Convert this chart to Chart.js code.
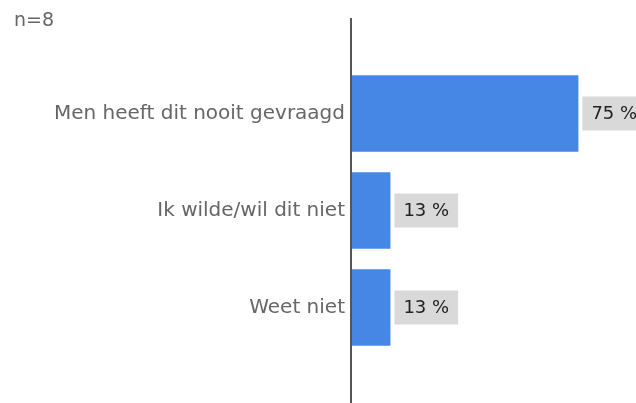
<!DOCTYPE html>
<html>
<head>
<meta charset="utf-8">
<script src="https://cdn.jsdelivr.net/npm/chart.js@4"></script>
<style>
  html, body { margin: 0; padding: 0; background: #fff; }
  #wrap { position: relative; width: 636px; height: 403px; }
  #note { position: absolute; left: 14px; top: 8px; font: 19px "DejaVu Sans", sans-serif; color: #666; }
</style>
</head>
<body>
<div id="wrap">
  <canvas id="chart" width="636" height="403"></canvas>
  <div id="note">n=8</div>
</div>
<script>
// ======================
// Data
// ======================
const categories = ["Men heeft dit nooit gevraagd", "Ik wilde/wil dit niet", "Weet niet"];
const percentages = [75, 13, 13];
const valueLabels = ["75 %", "13 %", "13 %"];

// vertical axis line through zero, longer than the plot area
const axisLine = {
  id: "axisLine",
  afterDatasetsDraw(chart) {
    const ctx = chart.ctx;
    const x = chart.scales.x.getPixelForValue(0);
    ctx.save();
    ctx.strokeStyle = "#555";
    ctx.lineWidth = 2;
    ctx.beginPath();
    ctx.moveTo(x, 18);
    ctx.lineTo(x, 403);
    ctx.stroke();
    ctx.restore();
  }
};

// grey boxes with the value next to each bar
const valueBoxes = {
  id: "valueBoxes",
  afterDatasetsDraw(chart) {
    const ctx = chart.ctx;
    const meta = chart.getDatasetMeta(0);
    ctx.save();
    ctx.font = "18px 'DejaVu Sans', sans-serif";
    ctx.textBaseline = "middle";
    meta.data.forEach((bar, i) => {
      const text = valueLabels[i];
      const w = ctx.measureText(text).width + 18;
      const left = bar.x + 4;
      ctx.fillStyle = "#d9d9d9";
      ctx.fillRect(left, bar.y - 17, w, 34);
      ctx.fillStyle = "#222";
      ctx.fillText(text, left + 9, bar.y + 1);
    });
    ctx.restore();
  }
};

new Chart(document.getElementById("chart"), {
  type: "bar",
  data: {
    labels: categories,
    datasets: [{
      data: percentages,
      backgroundColor: "#4686e4",
      categoryPercentage: 1,
      barPercentage: 0.79
    }]
  },
  options: {
    indexAxis: "y",
    responsive: false,
    animation: false,
    layout: { padding: { top: 65, bottom: 47, left: 0, right: 0 } },
    plugins: { legend: { display: false }, tooltip: { enabled: false } },
    scales: {
      x: { display: false, min: 0, max: 94 },
      y: {
        grid: { display: false, drawTicks: false },
        border: { display: false },
        ticks: {
          color: "#666",
          padding: 6,
          font: { family: "'DejaVu Sans', sans-serif", size: 20 }
        },
        afterFit(scale) { scale.width = 351; }
      }
    }
  },
  plugins: [axisLine, valueBoxes]
});
</script>
</body>
</html>
